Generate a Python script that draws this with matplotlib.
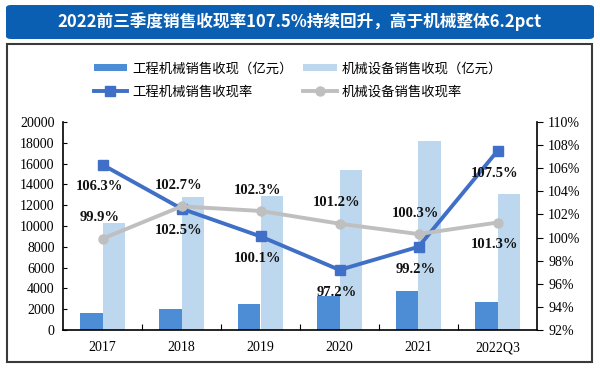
import matplotlib
matplotlib.use("Agg")
import matplotlib.pyplot as plt
from matplotlib.patches import FancyBboxPatch, Rectangle
from matplotlib.ticker import FixedLocator, FuncFormatter

plt.rcParams['font.family'] = ['Noto Sans CJK SC', 'DejaVu Sans']

# data
years = ["2017", "2018", "2019", "2020", "2021", "2022Q3"]
eng_sales = [1600, 2060, 2540, 3270, 3750, 2730]          # 工程机械销售收现（亿元）
mach_sales = [10300, 12790, 12900, 15360, 18150, 13050]   # 机械设备销售收现（亿元）
eng_rate = [106.3, 102.5, 100.1, 97.2, 99.2, 107.5]       # 工程机械销售收现率 %
mach_rate = [99.9, 102.7, 102.3, 101.2, 100.3, 101.3]     # 机械设备销售收现率 %

eng_label_pos = ["below"] * 6
mach_label_pos = ["above", "above", "above", "above", "above", "below"]

c_dark = "#4C8DD6"
c_light = "#BDD7EE"
c_line = "#3F6FC6"
c_gray = "#BFBFBF"
serif = "Liberation Serif"

fig = plt.figure(figsize=(6, 3.68), dpi=100)

# title banner
banner = FancyBboxPatch((6 / 600, 1 - 39 / 368), 588 / 600, 34 / 368,
                        boxstyle="round,pad=0,rounding_size=0.008",
                        transform=fig.transFigure, facecolor="#0B5FB2",
                        edgecolor="none")
fig.patches.append(banner)
fig.text(0.5, 1 - 22 / 368, "2022前三季度销售收现率107.5%持续回升，高于机械整体6.2pct",
         ha="center", va="center", color="white", fontsize=12, fontweight="bold")

# frame
frame = Rectangle((7 / 600, 1 - 362 / 368), 585 / 600, 318 / 368,
                  transform=fig.transFigure, facecolor="none",
                  edgecolor="#3A3A3A", linewidth=1.5)
fig.patches.append(frame)

ax = fig.add_axes([63 / 600, 38 / 368, 474 / 600, 208 / 368])
x = list(range(len(years)))
w = 0.28
b1 = ax.bar([i - w / 2 for i in x], eng_sales, w, color=c_dark, label="工程机械销售收现（亿元）")
b2 = ax.bar([i + w / 2 for i in x], mach_sales, w, color=c_light, label="机械设备销售收现（亿元）")
ax.set_ylim(0, 20000)
ax.set_xlim(-0.5, len(years) - 0.5)
ax.set_yticks(range(0, 20001, 2000))
ax.tick_params(axis="y", direction="in", length=3, labelsize=10, pad=6)
for t in ax.get_yticklabels():
    t.set_fontfamily(serif)
ax.xaxis.set_major_locator(FixedLocator([i + 0.5 for i in x[:-1]]))
ax.xaxis.set_major_formatter(FuncFormatter(lambda v, p: ""))
ax.xaxis.set_minor_locator(FixedLocator(x))
ax.set_xticklabels(years, minor=True)
ax.tick_params(axis="x", which="major", direction="in", length=4)
ax.tick_params(axis="x", which="minor", length=0, labelsize=10, pad=8)
for t in ax.get_xticklabels(minor=True):
    t.set_fontfamily(serif)
ax.spines["top"].set_visible(False)
ax.spines["right"].set_visible(False)
ax.spines["left"].set_linewidth(1.2)
ax.spines["bottom"].set_linewidth(1.2)

ax2 = ax.twinx()
l1, = ax2.plot(x, eng_rate, color=c_line, lw=2.8, marker="s", markersize=7,
               label="工程机械销售收现率")
l2, = ax2.plot(x, mach_rate, color=c_gray, lw=2.8, marker="o", markersize=6.5,
               label="机械设备销售收现率")
ax2.set_ylim(92, 110)
ax2.set_yticks(range(92, 111, 2))
ax2.yaxis.set_major_formatter(FuncFormatter(lambda v, p: f"{v:.0f}%"))
ax2.tick_params(axis="y", direction="out", length=4, labelsize=10, pad=4)
for t in ax2.get_yticklabels():
    t.set_fontfamily(serif)
ax2.spines["top"].set_visible(False)
ax2.spines["left"].set_visible(False)
ax2.spines["bottom"].set_visible(False)
ax2.spines["right"].set_linewidth(1.2)

for vals, pos in ((eng_rate, eng_label_pos), (mach_rate, mach_label_pos)):
    for i, (v, p) in enumerate(zip(vals, pos)):
        dy = 15 if p == "above" else -16
        ax2.annotate(f"{v:.1f}%", (i, v), xytext=(-2, dy), textcoords="offset points",
                     ha="center", va="center", fontsize=10.5, fontweight="bold",
                     fontfamily=serif, color="#111111")

fig.legend([b1, l1, b2, l2], [b1.get_label(), l1.get_label(), b2.get_label(), l2.get_label()],
           ncol=2, loc="center", bbox_to_anchor=(298 / 600, 1 - 80 / 368),
           frameon=False, fontsize=9.6, handlelength=2.5, handleheight=0.45,
           handletextpad=0.4, columnspacing=0.8, labelspacing=0.7)

fig.savefig("out.png", dpi=100)
